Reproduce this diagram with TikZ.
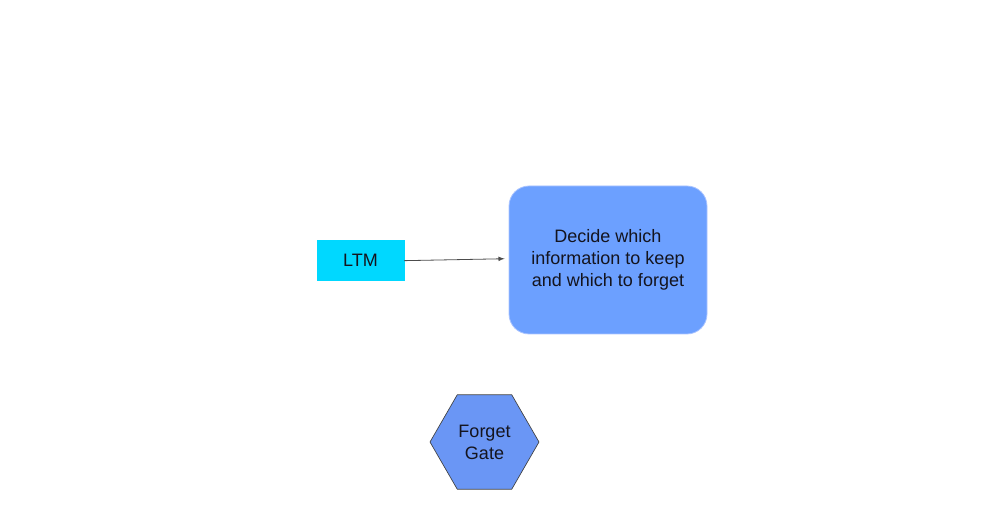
\documentclass[tikz,border=0pt]{standalone}
\usepackage{fontspec}
\setmainfont{Liberation Sans}
\usetikzlibrary{shapes.geometric}
\definecolor{ltmcyan}{RGB}{0,216,255}
\definecolor{boxblue}{RGB}{108,160,255}
\definecolor{boxedge}{RGB}{170,196,255}
\definecolor{gateblue}{RGB}{106,150,245}
\definecolor{txt}{RGB}{20,20,30}

\begin{document}
\begin{tikzpicture}[x=0.75pt, y=-0.75pt,
    every node/.style={font=\fontsize{13.5}{16.5}\selectfont, text=txt},
    memory/.style={fill=ltmcyan, draw=ltmcyan, minimum width=65pt, minimum height=30pt, inner sep=0pt},
    decision/.style={fill=boxblue, draw=boxedge, line width=0.6pt, rounded corners=15pt, minimum width=148.5pt, minimum height=111pt, align=center, inner sep=0pt},
    gate/.style={regular polygon, regular polygon sides=6, fill=gateblue, draw=black!75, line width=0.5pt, minimum size=81.75pt, inner sep=0pt, align=center}]
\useasboundingbox (0,0) rectangle (1006,523);
\node[memory] (ltm) at (360.5,260) {LTM};
\node[decision] (decide) at (608,260) {Decide which\\information to keep\\and which to forget};
\node[gate] (forget) at (484.5,442) {Forget\\Gate};
\draw[-latex, black!70, line width=0.6pt, shorten >=3pt] ([yshift=-0.5pt]ltm.east) -- ([yshift=1pt]decide.west);
\end{tikzpicture}
\end{document}
